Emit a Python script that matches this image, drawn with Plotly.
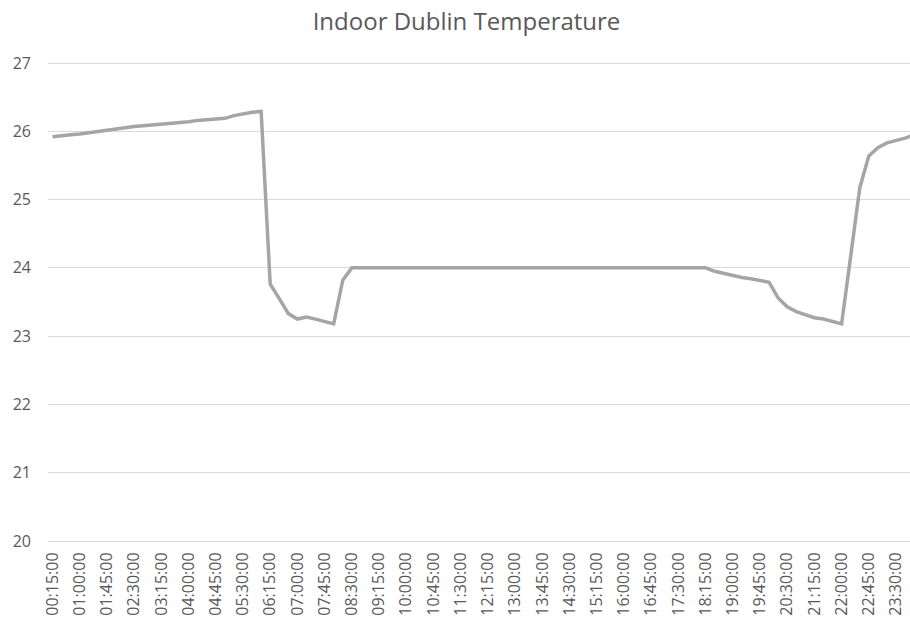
import plotly.graph_objects as go

# Categories: 15-minute readings starting 00:15:00
times = [f"{(15 * (i + 1)) // 60 % 24:02d}:{(15 * (i + 1)) % 60:02d}:00" for i in range(96)]

temperature = [
    25.92, 25.94, 25.95, 25.96, 25.98, 26.00, 26.02, 26.04, 26.05, 26.07,
    26.08, 26.09, 26.10, 26.12, 26.13, 26.14, 26.16, 26.17, 26.18, 26.19,
    26.23, 26.26, 26.28, 26.29, 23.76, 23.55, 23.33, 23.25, 23.28, 23.25,
    23.22, 23.18, 23.82, 24.00, 24.00, 24.00, 24.00, 24.00, 24.00, 24.00,
    24.00, 24.00, 24.00, 24.00, 24.00, 24.00, 24.00, 24.00, 24.00, 24.00,
    24.00, 24.00, 24.00, 24.00, 24.00, 24.00, 24.00, 24.00, 24.00, 24.00,
    24.00, 24.00, 24.00, 24.00, 24.00, 24.00, 24.00, 24.00, 24.00, 24.00,
    24.00, 24.00, 24.00, 23.95, 23.92, 23.88, 23.86, 23.84, 23.82, 23.79,
    23.56, 23.43, 23.36, 23.31, 23.27, 23.25, 23.21, 23.18, 24.17, 25.17,
    25.64, 25.76, 25.83, 25.86, 25.90, 25.95,
]

tick_labels = times[::3]
y_ticks = [20, 21, 22, 23, 24, 25, 26, 27]

x_idx = list(range(len(times)))

fig = go.Figure()
fig.add_trace(go.Scatter(
    x=x_idx, y=temperature, mode="lines",
    line=dict(color="#a5a5a5", width=3.5),
    hoverinfo="x+y", showlegend=False,
))

font_family = "Open Sans, Noto Sans, sans-serif"

fig.update_layout(
    width=910, height=627,
    margin=dict(l=48, r=0, t=62, b=86, autoexpand=False),
    paper_bgcolor="white", plot_bgcolor="white",
    title=dict(text="Indoor Dublin Temperature", x=466.5 / 910, xanchor="center",
               y=1 - 22 / 627, yanchor="middle", yref="container", xref="container",
               font=dict(family=font_family, size=24, color="#595959")),
    font=dict(family=font_family, color="#595959"),
)

fig.update_xaxes(
    range=[-0.5, 94.54], automargin=False,
    tickmode="array", tickvals=x_idx[::3], ticktext=tick_labels,
    tickangle=-90, tickfont=dict(size=16, color="#595959", family=font_family),
    showgrid=False, zeroline=False,
    showline=True, linecolor="#d9d9d9", linewidth=1,
    ticks="", ticklabelstandoff=4,
)
fig.update_yaxes(
    range=[20, 27.015], automargin=False, tickmode="array", tickvals=y_ticks,
    ticktext=[str(v) for v in y_ticks],
    tickfont=dict(size=16, color="#595959", family=font_family),
    showgrid=True, gridcolor="#d9d9d9", gridwidth=1,
    zeroline=False, showline=False, ticks="", ticklabelstandoff=16,
)

fig.write_html(
    "out.html",
    config={"displayModeBar": False},
    post_script="document.body.style.margin='0';document.body.style.overflow='hidden';",
)
